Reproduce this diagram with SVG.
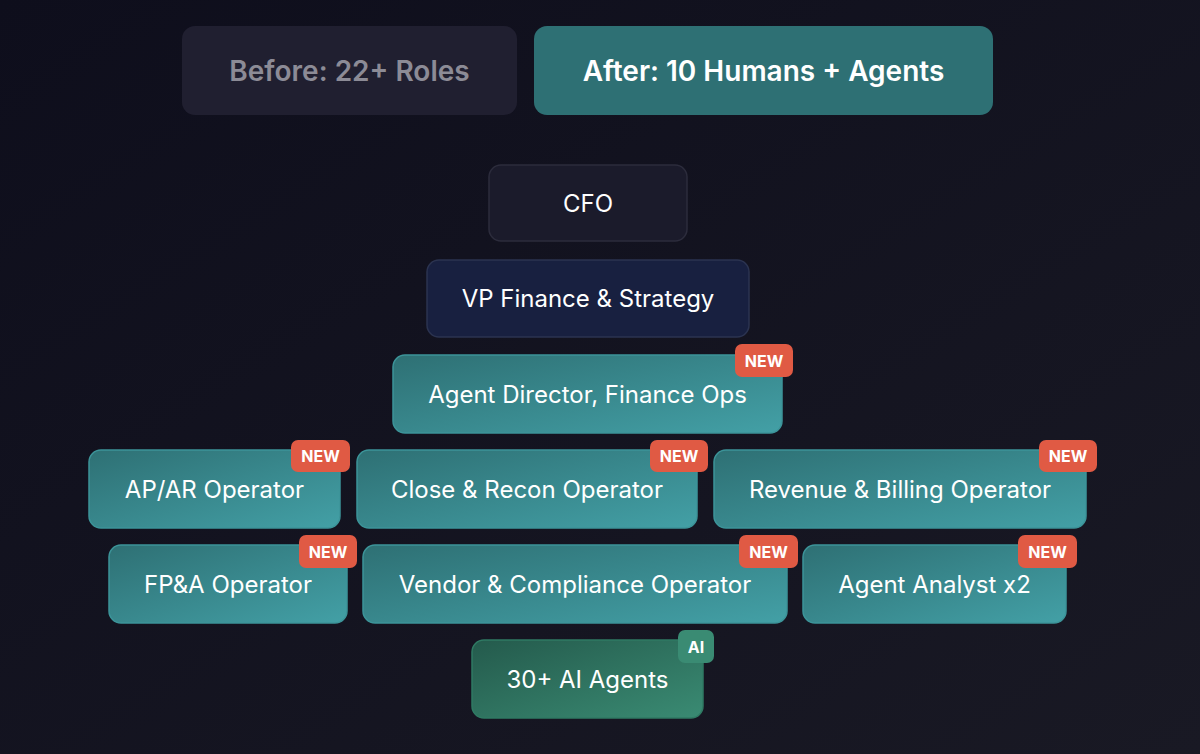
<svg xmlns="http://www.w3.org/2000/svg" width="1200" height="754" viewBox="0 0 1200 754">
<defs>
<linearGradient id="bg" x1="0" y1="0" x2="1" y2="1"><stop offset="0" stop-color="#0e0e1c"/><stop offset="1" stop-color="#191924"/></linearGradient>
<linearGradient id="teal" x1="0" y1="0" x2="1" y2="1"><stop offset="0" stop-color="#2e7074"/><stop offset="1" stop-color="#43a0a6"/></linearGradient>
<linearGradient id="green" x1="0" y1="0" x2="1" y2="1"><stop offset="0" stop-color="#245a4c"/><stop offset="1" stop-color="#3a8b73"/></linearGradient>
<style>
text{font-family:Inter,"Liberation Sans",sans-serif;text-anchor:middle;dominant-baseline:central}
.lbl{font-size:24px;fill:#ffffff}
.tab{font-size:28px;font-weight:600}
.teal{fill:url(#teal);stroke:#3c9499;stroke-width:1.5}
.badge{fill:#e05a44}
.bt{font-size:16px;font-weight:700;fill:#ffffff}
</style>
</defs>
<rect width="1200" height="754" fill="url(#bg)"/>
<g id="tab-before"><rect x="182" y="26" width="335" height="89" rx="13" fill="#201f30"/><text class="tab" x="349.5" y="71" fill="#8c8b96">Before: 22+ Roles</text></g>
<g id="tab-after"><rect x="534" y="26" width="459" height="89" rx="13" fill="#2e7074"/><text class="tab" x="763.5" y="71" fill="#ffffff">After: 10 Humans + Agents</text></g>
<g id="connectors"></g>
<g id="cfo"><rect x="489" y="165" width="198" height="76" rx="12" fill="#1b1b2b" stroke="#2c2c3c" stroke-width="1.5"/><text class="lbl" x="588" y="203">CFO</text></g>
<g id="vp"><rect x="427" y="260" width="322" height="77" rx="12" fill="#182040" stroke="#2b3350" stroke-width="1.5"/><text class="lbl" x="588" y="298.5">VP Finance &amp; Strategy</text></g>
<g id="agent-director"><rect class="teal" x="393" y="355" width="389" height="78" rx="12"/><text class="lbl" x="587.5" y="394">Agent Director, Finance Ops</text><rect class="badge" x="735" y="344" width="58" height="33" rx="7"/><text class="bt" x="764" y="360.5">NEW</text></g>
<g id="apar"><rect class="teal" x="89" y="450" width="251" height="78" rx="12"/><text class="lbl" x="214.5" y="489">AP/AR Operator</text><rect class="badge" x="291" y="440" width="59" height="32" rx="7"/><text class="bt" x="320.5" y="456">NEW</text></g>
<g id="close-recon"><rect class="teal" x="357" y="450" width="340" height="78" rx="12"/><text class="lbl" x="527" y="489">Close &amp; Recon Operator</text><rect class="badge" x="650" y="440" width="58" height="32" rx="7"/><text class="bt" x="679" y="456">NEW</text></g>
<g id="revenue-billing"><rect class="teal" x="714" y="450" width="372" height="78" rx="12"/><text class="lbl" x="900" y="489">Revenue &amp; Billing Operator</text><rect class="badge" x="1039" y="440" width="58" height="32" rx="7"/><text class="bt" x="1068" y="456">NEW</text></g>
<g id="fpa"><rect class="teal" x="109" y="545" width="238" height="78" rx="12"/><text class="lbl" x="228" y="584">FP&amp;A Operator</text><rect class="badge" x="299" y="535" width="58" height="33" rx="7"/><text class="bt" x="328" y="551.5">NEW</text></g>
<g id="vendor-compliance"><rect class="teal" x="363" y="545" width="424" height="78" rx="12"/><text class="lbl" x="575" y="584">Vendor &amp; Compliance Operator</text><rect class="badge" x="739" y="535" width="59" height="33" rx="7"/><text class="bt" x="768.5" y="551.5">NEW</text></g>
<g id="agent-analyst"><rect class="teal" x="803" y="545" width="263" height="78" rx="12"/><text class="lbl" x="934.5" y="584">Agent Analyst x2</text><rect class="badge" x="1018" y="535" width="59" height="33" rx="7"/><text class="bt" x="1047.5" y="551.5">NEW</text></g>
<g id="ai-agents"><rect x="472" y="640" width="231" height="78" rx="12" fill="url(#green)" stroke="#2f7a63" stroke-width="1.5"/><text class="lbl" x="587.5" y="679">30+ AI Agents</text><rect x="678" y="630" width="36" height="33" rx="7" fill="#3a8b73"/><text class="bt" x="696" y="646.5">AI</text></g>
</svg>
